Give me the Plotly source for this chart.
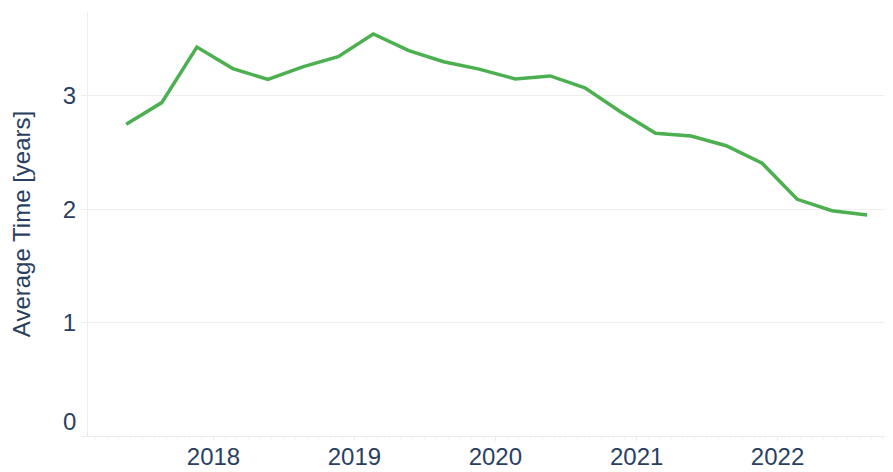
import plotly.graph_objects as go

dates = [
    "2017-05-20", "2017-08-20", "2017-11-19", "2018-02-20", "2018-05-22",
    "2018-08-22", "2018-11-20", "2019-02-19", "2019-05-22", "2019-08-20",
    "2019-11-20", "2020-02-22", "2020-05-22", "2020-08-20", "2020-11-20",
    "2021-02-19", "2021-05-22", "2021-08-21", "2021-11-22", "2022-02-21",
    "2022-05-22", "2022-08-21",
]
avg_years = [
    2.75, 2.94, 3.43, 3.24, 3.145, 3.257, 3.345, 3.545, 3.398, 3.30,
    3.235, 3.148, 3.175, 3.071, 2.86, 2.669, 2.646, 2.56, 2.405, 2.087,
    1.987, 1.949,
]
y_tickvals = [0, 1, 2, 3]
y_ticktext = ["", "1", "2", "3"]
x_range = ["2017-02-10", "2022-10-27"]
y_range = [0, 3.739]

font_color = "#2a3f5f"
line_gray = "#ececec"
font_family = "Arial, Liberation Sans, sans-serif"
fs = 24

fig = go.Figure()
fig.add_trace(go.Scatter(
    x=dates, y=avg_years, mode="lines",
    line=dict(color="#4caf50", width=3.5),
    showlegend=False,
))

# the page body adds an 8px margin, so the figure is sized to fit the window
fig.update_layout(
    width=885, height=464,
    margin=dict(l=80, r=0, t=4, b=36, autoexpand=False),
    paper_bgcolor="white", plot_bgcolor="white",
    font=dict(family=font_family, size=fs, color=font_color),
    xaxis=dict(
        type="date", range=x_range, automargin=False,
        showgrid=False, zeroline=False,
        showline=True, linecolor=line_gray, linewidth=1,
        ticks="outside", ticklen=4, tickcolor=line_gray,
        dtick="M12", tick0="2018-01-01", tickformat="%Y",
        minor=dict(ticks="outside", ticklen=2, tickcolor="#f2f2f2", dtick="M1", showgrid=False),
        tickfont=dict(size=fs, color=font_color),
        ticklabelstandoff=-5,
    ),
    yaxis=dict(
        range=y_range, automargin=False,
        tickmode="array", tickvals=y_tickvals, ticktext=y_ticktext,
        showgrid=True, gridcolor="#efefef", gridwidth=1,
        zeroline=False,
        showline=True, linecolor=line_gray, linewidth=1,
        ticks="outside", ticklen=6, tickcolor=line_gray,
        tickfont=dict(size=fs, color=font_color),
        title=dict(text="Average Time [years]", font=dict(size=fs, color=font_color), standoff=25),
    ),
)

fig.add_annotation(
    x=0, xref="paper", y=0, yref="y",
    text="0", showarrow=False,
    xanchor="right", yanchor="middle",
    xshift=-10, yshift=15,
    font=dict(size=fs, color=font_color, family=font_family),
)

fig.write_html("out.html")
